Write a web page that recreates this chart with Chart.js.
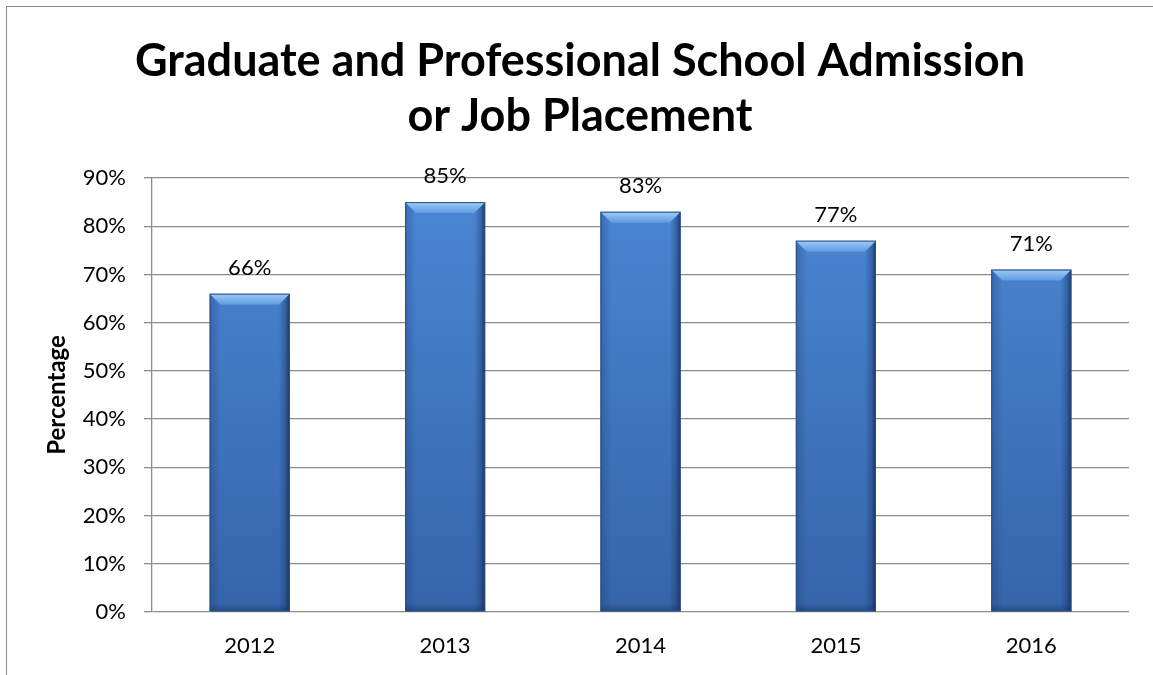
<!DOCTYPE html>
<html>
<head>
<meta charset="utf-8">
<script src="https://cdn.jsdelivr.net/npm/chart.js@4/dist/chart.umd.min.js"></script>
<style>
  html, body { margin: 0; padding: 0; background: #fff; overflow: hidden; }
  #wrap { position: relative; width: 1153px; height: 675px; }
  #frame { position: absolute; left: 6px; top: 6px; width: 1200px; height: 700px; border: 1.5px solid #8a8a8a; box-sizing: border-box; pointer-events: none; }
</style>
</head>
<body>
<div id="wrap">
  <canvas id="c"></canvas>
  <div id="frame"></div>
</div>
<script>
const categories = ['2012', '2013', '2014', '2015', '2016'];
const percentages = [66, 85, 83, 77, 71];
const titleLines = ['Graduate and Professional School Admission', 'or Job Placement'];
const yAxisTitle = 'Percentage';
const yMin = 0, yMax = 90, yStep = 10;

const FONT = 'Lato, "Open Sans", sans-serif';

const barBevel = {
  id: 'barBevel',
  afterDatasetsDraw(chart) {
    const ctx = chart.ctx;
    const meta = chart.getDatasetMeta(0);
    meta.data.forEach(el => {
      const p = el.getProps(['x', 'y', 'base', 'width'], true);
      const l = p.x - p.width / 2, r = p.x + p.width / 2, t = p.y, b = p.base;
      const bv = Math.min(11, (b - t) / 2);
      ctx.save();
      let g = ctx.createLinearGradient(l, 0, l + bv, 0);
      g.addColorStop(0, 'rgba(30,60,110,0.35)');
      g.addColorStop(1, 'rgba(30,60,110,0.0)');
      ctx.fillStyle = g;
      ctx.beginPath();
      ctx.moveTo(l, t); ctx.lineTo(l + bv, t + bv); ctx.lineTo(l + bv, b - 2); ctx.lineTo(l, b);
      ctx.closePath(); ctx.fill();
      g = ctx.createLinearGradient(r - bv, 0, r, 0);
      g.addColorStop(0, 'rgba(20,45,90,0.0)');
      g.addColorStop(0.6, 'rgba(20,45,90,0.35)');
      g.addColorStop(1, 'rgba(15,35,75,0.8)');
      ctx.fillStyle = g;
      ctx.beginPath();
      ctx.moveTo(r, t); ctx.lineTo(r - bv, t + bv); ctx.lineTo(r - bv, b - 2); ctx.lineTo(r, b);
      ctx.closePath(); ctx.fill();
      g = ctx.createLinearGradient(0, b - 8, 0, b);
      g.addColorStop(0, 'rgba(20,45,90,0)');
      g.addColorStop(1, 'rgba(20,45,90,0.45)');
      ctx.fillStyle = g;
      ctx.fillRect(l, b - 8, p.width, 8);
      g = ctx.createLinearGradient(0, t, 0, t + bv);
      g.addColorStop(0, '#9fcbf7');
      g.addColorStop(1, '#5d9be2');
      ctx.fillStyle = g;
      ctx.beginPath();
      ctx.moveTo(l, t); ctx.lineTo(r, t); ctx.lineTo(r - bv, t + bv); ctx.lineTo(l + bv, t + bv);
      ctx.closePath(); ctx.fill();
      ctx.strokeStyle = '#2a4f86';
      ctx.lineWidth = 1;
      ctx.strokeRect(l + 0.5, t + 0.5, p.width - 1, b - t - 1);
      ctx.restore();
    });
  }
};

const valueLabels = {
  id: 'valueLabels',
  afterDatasetsDraw(chart) {
    const ctx = chart.ctx;
    const meta = chart.getDatasetMeta(0);
    ctx.save();
    ctx.font = '22px ' + FONT;
    ctx.fillStyle = '#000';
    ctx.textAlign = 'center';
    ctx.textBaseline = 'alphabetic';
    meta.data.forEach((el, i) => {
      const p = el.getProps(['x', 'y'], true);
      ctx.fillText(percentages[i] + '%', p.x, p.y - 19);
    });
    ctx.restore();
  }
};

new Chart(document.getElementById('c'), {
  type: 'bar',
  data: {
    labels: categories,
    datasets: [{
      data: percentages,
      backgroundColor(ctx) {
        const area = ctx.chart.chartArea;
        if (!area) return '#4a84d0';
        const g = ctx.chart.ctx.createLinearGradient(0, area.top, 0, area.bottom);
        g.addColorStop(0, '#4c88d5');
        g.addColorStop(1, '#3564aa');
        return g;
      },
      borderWidth: 0,
      categoryPercentage: 1,
      barPercentage: 0.41
    }]
  },
  options: {
    responsive: true,
    maintainAspectRatio: false,
    animation: false,
    layout: { padding: { left: 31, right: 24, top: 33, bottom: 0 } },
    plugins: {
      legend: { display: false },
      tooltip: { enabled: false },
      title: {
        display: true,
        text: titleLines,
        color: '#000',
        font: { family: FONT, size: 45, weight: 'bold', lineHeight: 1.244 },
        padding: { top: 0, bottom: 33 }
      }
    },
    scales: {
      x: {
        grid: { display: false },
        border: { display: false },
        ticks: { color: '#000', font: { family: FONT, size: 22 }, padding: 13 },
        afterFit(scale) { scale.height = 63; }
      },
      y: {
        min: yMin, max: yMax,
        ticks: {
          stepSize: yStep,
          color: '#000',
          font: { family: FONT, size: 22 },
          padding: 18,
          callback: v => v + '%'
        },
        grid: { color: '#8c8c8c', lineWidth: 1.3, tickLength: 8 },
        border: { display: true, color: '#8c8c8c', width: 1.3 },
        title: {
          display: true,
          text: yAxisTitle,
          color: '#000',
          font: { family: FONT, size: 24, weight: 'bold' },
          padding: { top: 12, bottom: 0 }
        },
        afterFit(scale) { scale.width = 121; }
      }
    }
  },
  plugins: [barBevel, valueLabels]
});
</script>
</body>
</html>
